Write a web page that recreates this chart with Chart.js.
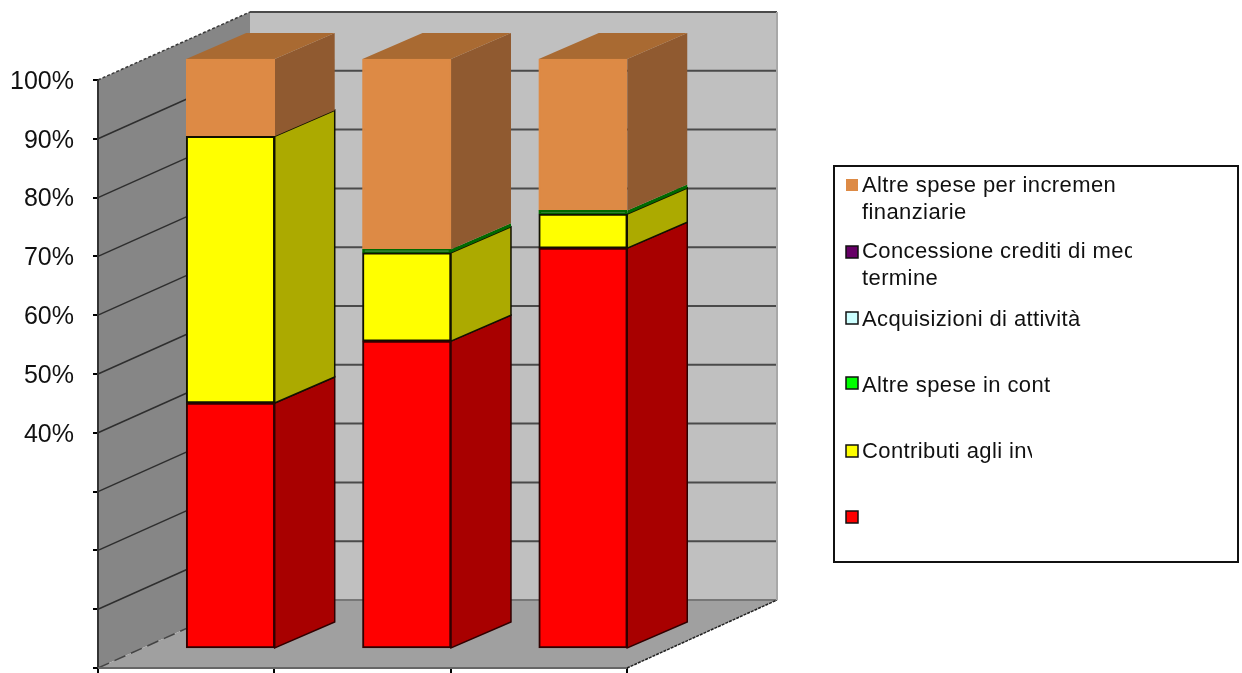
<!DOCTYPE html>
<html>
<head>
<meta charset="utf-8">
<title>Grafico spese</title>
<script src="https://cdn.jsdelivr.net/npm/chart.js@4"></script>
<style>
    html, body { margin: 0; padding: 0; background: #fff; }
    canvas { display: block; }
</style>
</head>
<body>
<canvas id="speseChart" width="1242" height="673"></canvas>
<script>
// DATI (% per ogni colonna, dal basso verso l'alto)
const categories = ['', '', ''];
const positions = [1, 2, 3];
const tickValues = [40, 50, 60, 70, 80, 90, 100];

const contributiBase = [41.6, 52.1, 67.9];
const contributiInv = [45.3, 15.0, 5.8];
const altreConto = [0, 0.6, 0.6];
const acquisizioni = [0, 0, 0];
const concessione = [0, 0, 0];
const altreFinanz = [13.1, 32.3, 25.7];

// Testi della legenda, come appaiono (tagliati) nel riquadro
const legendAltreFinanz = ['Altre spese per increment', 'finanziarie'];
const legendConcessione = ['Concessione crediti di med', 'termine'];
const legendAcquisizioni = ['Acquisizioni di attività'];
const legendAltreConto = ['Altre spese in cont'];
const legendContributiInv = ['Contributi agli inv'];
const legendBase = [''];

// Profondità della scena e dei blocchi (pixel)
const WALL_DX = 152, WALL_DY = -68;
const BAR_DX = 60, BAR_DY = -26;

function makeSeries(label, values, fill, border, side, top) {
    return {
        label: label,
        data: values.map((v, i) => ({ x: positions[i], y: v })),
        backgroundColor: fill,
        borderColor: border,
        borderWidth: 2,
        borderSkipped: false,
        barThickness: 88.5,
        xAxisID: 'xBar',
        yAxisID: 'yBar',
        sideColor: side,
        topColor: top
    };
}

function polygon(c, pts, fill, stroke, width, dash) {
    c.beginPath();
    pts.forEach((p, i) => i ? c.lineTo(p[0], p[1]) : c.moveTo(p[0], p[1]));
    c.closePath();
    if (fill) { c.fillStyle = fill; c.fill(); }
    if (stroke) {
        c.strokeStyle = stroke;
        c.lineWidth = width || 1;
        c.setLineDash(dash || []);
        c.stroke();
        c.setLineDash([]);
    }
}

function line(c, x1, y1, x2, y2, color, width, dash) {
    c.beginPath();
    c.moveTo(x1, y1);
    c.lineTo(x2, y2);
    c.strokeStyle = color;
    c.lineWidth = width;
    c.setLineDash(dash || []);
    c.stroke();
    c.setLineDash([]);
}

// Pareti, pavimento e griglia in prospettiva
const scenePlugin = {
    id: 'scene',
    beforeDatasetsDraw(chart) {
        const c = chart.ctx;
        const yS = chart.scales.y, xS = chart.scales.x;
        const left = xS.left, right = xS.right;
        const y0 = yS.getPixelForValue(0), y100 = yS.getPixelForValue(100);
        const backL = left + WALL_DX, backR = right + WALL_DX - 2;

        c.save();
        polygon(c, [[backL, y100 + WALL_DY], [backR, y100 + WALL_DY], [backR, y0 + WALL_DY], [backL, y0 + WALL_DY]], '#c0c0c0');
        polygon(c, [[left, y100], [backL, y100 + WALL_DY], [backL, y0 + WALL_DY], [left, y0]], '#868686');
        polygon(c, [[left, y0], [backL, y0 + WALL_DY], [backR, y0 + WALL_DY], [right, y0]], '#a0a0a0');

        for (let v = 0; v <= 100; v += 10) {
            const py = yS.getPixelForValue(v);
            line(c, backL, py + WALL_DY, backR, py + WALL_DY, v === 0 ? '#777' : '#4a4a4a', 2);
            if (v > 0 && v < 100) line(c, left, py, backL, py + WALL_DY, '#2e2e2e', 1.5);
        }
        line(c, left, y100, backL, y100 + WALL_DY, '#3a3a3a', 1.5, [3, 2]);
        line(c, left, y0, backL, y0 + WALL_DY, '#444', 1.5, [12, 6]);
        line(c, right, y0, backR, y0 + WALL_DY, '#222', 1.5, [3, 1]);
        line(c, backR, y100 + WALL_DY, backR, y0 + WALL_DY, '#a8a8a8', 2);
        line(c, left, y100, left, y0, '#333', 2);
        line(c, left, y0, right, y0, '#666', 2);

        // Facce laterali e superiori dei blocchi
        chart.data.datasets.forEach((ds, di) => {
            chart.getDatasetMeta(di).data.forEach(bar => {
                const h = bar.base - bar.y;
                if (h <= 0) return;
                const xr = bar.x + bar.width / 2, xl = bar.x - bar.width / 2;
                polygon(c, [[xr, bar.y], [xr + BAR_DX, bar.y + BAR_DY], [xr + BAR_DX, bar.base + BAR_DY], [xr, bar.base]],
                    ds.sideColor, ds.borderColor === ds.backgroundColor ? null : ds.borderColor, 1.5);
                if (ds.topColor) {
                    polygon(c, [[xl, bar.y], [xl + BAR_DX, bar.y + BAR_DY], [xr + BAR_DX, bar.y + BAR_DY], [xr, bar.y]], ds.topColor);
                }
            });
        });
        c.restore();
    }
};

// Riquadro della legenda
const legendRows = [
    { ds: 5, sy: 179, base: [192, 219], clip: 1115 },
    { ds: 4, sy: 246, base: [258, 285], clip: 1132 },
    { ds: 3, sy: 312, base: [326], clip: 1100 },
    { ds: 2, sy: 377, base: [392], clip: 1050 },
    { ds: 1, sy: 445, base: [458], clip: 1032 },
    { ds: 0, sy: 511, base: [], clip: 1032 }
];
const legendLines = [legendBase, legendContributiInv, legendAltreConto, legendAcquisizioni, legendConcessione, legendAltreFinanz];

const legendBoxPlugin = {
    id: 'legendBox',
    afterDraw(chart) {
        const c = chart.ctx;
        c.save();
        c.strokeStyle = '#111';
        c.lineWidth = 2;
        c.strokeRect(834, 166, 404, 396);
        c.font = '22px "Liberation Sans"';
        c.letterSpacing = '0.4px';
        c.textBaseline = 'alphabetic';
        c.textAlign = 'left';
        legendRows.forEach(row => {
            const ds = chart.data.datasets[row.ds];
            c.fillStyle = ds.legendColor || ds.backgroundColor;
            c.fillRect(846, row.sy, 12, 12);
            if (row.ds !== 5) {
                c.strokeStyle = '#111';
                c.lineWidth = 1.5;
                c.strokeRect(846, row.sy, 12, 12);
            }
            c.save();
            c.beginPath();
            c.rect(860, row.sy - 12, row.clip - 860, 70);
            c.clip();
            c.fillStyle = '#111';
            legendLines[row.ds].forEach((t, i) => c.fillText(t, 862, row.base[i]));
            c.restore();
        });
        c.restore();
    }
};

const datasets = [
    makeSeries('', contributiBase, '#ff0000', '#300000', '#a80000'),
    makeSeries(legendContributiInv.join(' '), contributiInv, '#ffff00', '#111100', '#acaa00'),
    makeSeries(legendAltreConto.join(' '), altreConto, '#006a00', '#006a00', '#006a00'),
    makeSeries(legendAcquisizioni.join(' '), acquisizioni, '#ccffff', '#111', '#8fb3b3'),
    makeSeries(legendConcessione.join(' '), concessione, '#660066', '#111', '#470047'),
    makeSeries(legendAltreFinanz.join(' '), altreFinanz, '#dd8a45', '#dd8a45', '#905a30', '#a96a32')
];
datasets[2].legendColor = '#00ff00';

new Chart(document.getElementById('speseChart').getContext('2d'), {
    type: 'bar',
    data: { labels: categories, datasets: datasets },
    plugins: [scenePlugin, legendBoxPlugin],
    options: {
        responsive: false,
        animation: false,
        layout: { autoPadding: false, padding: { top: 12, left: 0, right: 615, bottom: 0 } },
        plugins: {
            legend: { display: false },
            tooltip: { enabled: false }
        },
        scales: {
            x: {
                offset: true,
                border: { display: false },
                grid: { offset: true, drawOnChartArea: false, tickLength: 5, color: '#000', lineWidth: 2 },
                ticks: { display: false },
                afterFit: scale => {
                    scale.height = 5;
                    scale.paddingLeft = 0;
                    scale.paddingRight = 0;
                }
            },
            y: {
                min: 0,
                max: 111.56,
                border: { display: false },
                grid: { drawOnChartArea: false, tickLength: 5, color: '#000', lineWidth: 2 },
                ticks: {
                    stepSize: 10,
                    padding: 19,
                    labelOffset: 2,
                    color: '#111',
                    font: { family: '"Liberation Sans"', size: 25 },
                    callback: v => tickValues.includes(v) ? v + '%' : ''
                },
                afterBuildTicks: scale => { scale.ticks = scale.ticks.filter(t => t.value <= 100); },
                afterFit: scale => {
                    scale.width = 98;
                    scale.paddingTop = 0;
                    scale.paddingBottom = 0;
                }
            },
            // Assi nascosti: i blocchi stanno avanti rispetto alle pareti
            xBar: { type: 'linear', display: false, offset: false, min: 0.2485, max: 3.2496, stacked: true },
            yBar: { type: 'linear', display: false, min: -3.4, max: 108, stacked: true, position: 'left' }
        }
    }
});
</script>
</body>
</html>
